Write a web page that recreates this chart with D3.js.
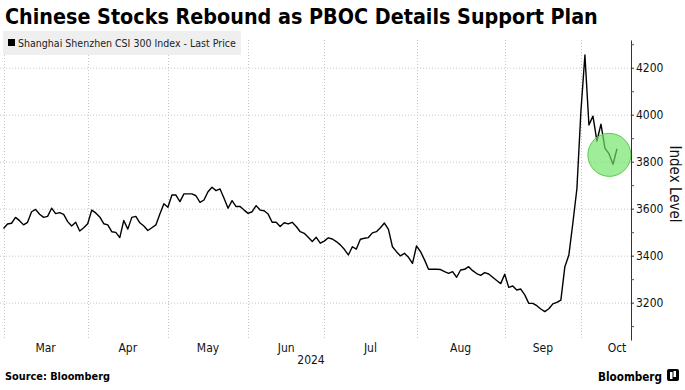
<!DOCTYPE html>
<html>
<head>
<meta charset="utf-8">
<script src="https://cdn.jsdelivr.net/npm/d3@7"></script>
<style>
  body { margin: 0; background: #fff; }
  svg { display: block; }
</style>
</head>
<body>
<div id="chart"></div>
<script>
// CSI 300 closes, one per trading day from Feb 29 to Oct 18 2024
const closes = [
  3516, 3535, 3538, 3563, 3549, 3531, 3542, 3587, 3597, 3576,
  3563, 3567, 3602, 3579, 3583, 3576, 3545, 3526, 3542, 3505,
  3519, 3536, 3594, 3582, 3565, 3536, 3531, 3502, 3499, 3477,
  3550, 3513, 3563, 3567, 3540, 3526, 3507, 3519, 3531, 3577,
  3621, 3606, 3658, 3658, 3630, 3663, 3663, 3663, 3655, 3627,
  3637, 3672, 3691, 3677, 3684, 3644, 3602, 3634, 3609, 3609,
  3594, 3580, 3587, 3613, 3594, 3591, 3577, 3542, 3542, 3524,
  3540, 3535, 3542, 3524, 3502, 3495, 3478, 3460, 3478, 3453,
  3462, 3476, 3471, 3460, 3446, 3427, 3403, 3438, 3428, 3470,
  3474, 3477, 3497, 3502, 3519, 3539, 3512, 3438, 3417, 3399,
  3410, 3393, 3367, 3441, 3417, 3382, 3342, 3342, 3342, 3341,
  3332, 3325, 3332, 3308, 3339, 3342, 3353, 3336, 3324, 3316,
  3328, 3322, 3308, 3294, 3281, 3321, 3265, 3271, 3254, 3258,
  3233, 3197, 3197, 3187, 3173, 3162, 3174, 3195, 3201, 3211,
  3353, 3403, 3540, 3685, 4015, 4254, 3956, 3994, 3888, 3960,
  3857, 3834, 3789, 3855
];
// exchange closed on these weekdays
const holidays = ["2024-04-04", "2024-04-05", "2024-05-01", "2024-05-02", "2024-05-03",
  "2024-06-10", "2024-09-16", "2024-09-17", "2024-10-01", "2024-10-02", "2024-10-03",
  "2024-10-04", "2024-10-07"];
const monthNames = ["Mar", "Apr", "May", "Jun", "Jul", "Aug", "Sep", "Oct"];
const yearLabel = "2024";
const yTicks = [3200, 3400, 3600, 3800, 4000, 4200];
const yMinorTicks = [3100, 3300, 3500, 3700, 3900, 4100, 4300];

const titleText = "Chinese Stocks Rebound as PBOC Details Support Plan";
const legendText = "Shanghai Shenzhen CSI 300 Index - Last Price";

let width = 685, height = 390;
let axisX = 631;

// trading calendar, runs to the end of October so the Oct label sits mid-month
const fmt = d3.timeFormat("%Y-%m-%d");
let days = d3.timeDay.range(new Date(2024, 1, 29), new Date(2024, 10, 1))
  .filter(d => d.getDay() != 0 && d.getDay() != 6 && !holidays.includes(fmt(d)));

let monthEnds = [];
days.forEach((d, i) => {
  if (i == days.length - 1 || days[i + 1].getMonth() != d.getMonth()) monthEnds.push(i);
});

let x = d3.scaleLinear().domain([0, closes.length - 1]).range([3.5, 617]);
let y = d3.scaleLinear().domain([3041, 4318]).range([340, 40]);

let svg = d3.select("#chart").append("svg")
  .attr("width", width)
  .attr("height", height);

function fitText(sel, target) {
  let size = parseFloat(sel.attr("font-size"));
  let w = sel.node().getComputedTextLength();
  sel.attr("font-size", (size * target / w).toFixed(2));
}

// title
svg.append("text")
  .attr("x", 5).attr("y", 24)
  .attr("font-family", "DejaVu Sans Condensed")
  .attr("font-weight", "bold")
  .attr("font-size", 20)
  .attr("fill", "#000")
  .text(titleText)
  .call(fitText, 593);

// grid
let grid = svg.append("g")
  .attr("stroke", "#c8c8c8")
  .attr("stroke-dasharray", "1,2");

grid.selectAll(".hgrid")
  .data(yTicks)
  .enter().append("line")
  .attr("x1", 0).attr("x2", axisX)
  .attr("y1", d => y(d) + 0.5).attr("y2", d => y(d) + 0.5);

grid.selectAll(".vgrid")
  .data(monthEnds.slice(0, monthNames.length))
  .enter().append("line")
  .attr("x1", d => Math.round(x(d)) + 0.5).attr("x2", d => Math.round(x(d)) + 0.5)
  .attr("y1", 40).attr("y2", 340);

// legend
svg.append("rect")
  .attr("x", 3).attr("y", 31)
  .attr("width", 238).attr("height", 24)
  .attr("fill", "#efefef");
svg.append("rect")
  .attr("x", 8).attr("y", 39)
  .attr("width", 7).attr("height", 7)
  .attr("fill", "#000");
svg.append("text")
  .attr("x", 18).attr("y", 47)
  .attr("font-family", "DejaVu Sans Condensed")
  .attr("font-size", 11)
  .attr("fill", "#222")
  .text(legendText)
  .call(fitText, 218);

// price line
let line = d3.line()
  .x((d, i) => x(i))
  .y(d => y(d));

svg.append("path")
  .datum(closes)
  .attr("fill", "none")
  .attr("stroke", "#000")
  .attr("stroke-width", 1.4)
  .attr("stroke-linejoin", "round")
  .attr("d", line);

// highlight circle round the latest prices
svg.append("circle")
  .attr("cx", x(151.1))
  .attr("cy", y(3829))
  .attr("r", 21.5)
  .attr("fill", "rgb(115,228,105)")
  .attr("fill-opacity", 0.68)
  .attr("stroke", "rgb(90,200,80)")
  .attr("stroke-width", 1);

// y axis on the right
let yAxis = d3.axisRight(y)
  .tickValues(yTicks)
  .tickSize(3)
  .tickSizeOuter(0)
  .tickPadding(2)
  .tickFormat(d3.format("d"));

let yg = svg.append("g")
  .attr("transform", `translate(${axisX},0)`)
  .call(yAxis);
yg.select(".domain").attr("stroke", "#333");
yg.selectAll(".tick line").attr("stroke", "#333");
yg.selectAll(".tick text")
  .attr("font-family", "DejaVu Sans Condensed")
  .attr("font-size", 12)
  .attr("fill", "#111");

let yMinor = d3.axisRight(y)
  .tickValues(yMinorTicks)
  .tickSize(3)
  .tickFormat("");
svg.append("g")
  .attr("transform", `translate(${axisX},0)`)
  .call(yMinor)
  .call(g => g.select(".domain").remove())
  .selectAll(".tick line").attr("stroke", "#555");

svg.append("text")
  .attr("transform", `translate(670,184) rotate(90)`)
  .attr("text-anchor", "middle")
  .attr("font-family", "DejaVu Sans Condensed")
  .attr("font-size", 15)
  .attr("fill", "#111")
  .text("Index Level");

// month labels between month-end gridlines
svg.selectAll(".month")
  .data(monthNames)
  .enter().append("text")
  .attr("x", (d, i) => x((monthEnds[i] + monthEnds[i + 1]) / 2))
  .attr("y", 352)
  .attr("text-anchor", "middle")
  .attr("font-family", "DejaVu Sans Condensed")
  .attr("font-size", 12)
  .attr("fill", "#111")
  .text(d => d);

svg.append("text")
  .attr("x", 311).attr("y", 364)
  .attr("text-anchor", "middle")
  .attr("font-family", "DejaVu Sans Condensed")
  .attr("font-size", 12)
  .attr("fill", "#111")
  .text(yearLabel);

// footer
svg.append("text")
  .attr("x", 5).attr("y", 380)
  .attr("font-family", "DejaVu Sans Condensed")
  .attr("font-weight", "bold")
  .attr("font-size", 11)
  .attr("fill", "#000")
  .text("Source: Bloomberg")
  .call(fitText, 105);

svg.append("text")
  .attr("x", 598).attr("y", 381)
  .attr("font-family", "DejaVu Sans Condensed")
  .attr("font-weight", "bold")
  .attr("font-size", 13)
  .attr("fill", "#000")
  .text("Bloomberg")
  .call(fitText, 64);

let logo = svg.append("g").attr("transform", "translate(667,369)");
logo.append("rect")
  .attr("width", 12).attr("height", 12).attr("rx", 2)
  .attr("fill", "#000");
logo.append("rect")
  .attr("x", 3).attr("y", 3).attr("width", 2.5).attr("height", 7)
  .attr("fill", "#fff");
logo.append("rect")
  .attr("x", 6.5).attr("y", 2).attr("width", 2.5).attr("height", 6)
  .attr("fill", "#fff");
</script>
</body>
</html>
